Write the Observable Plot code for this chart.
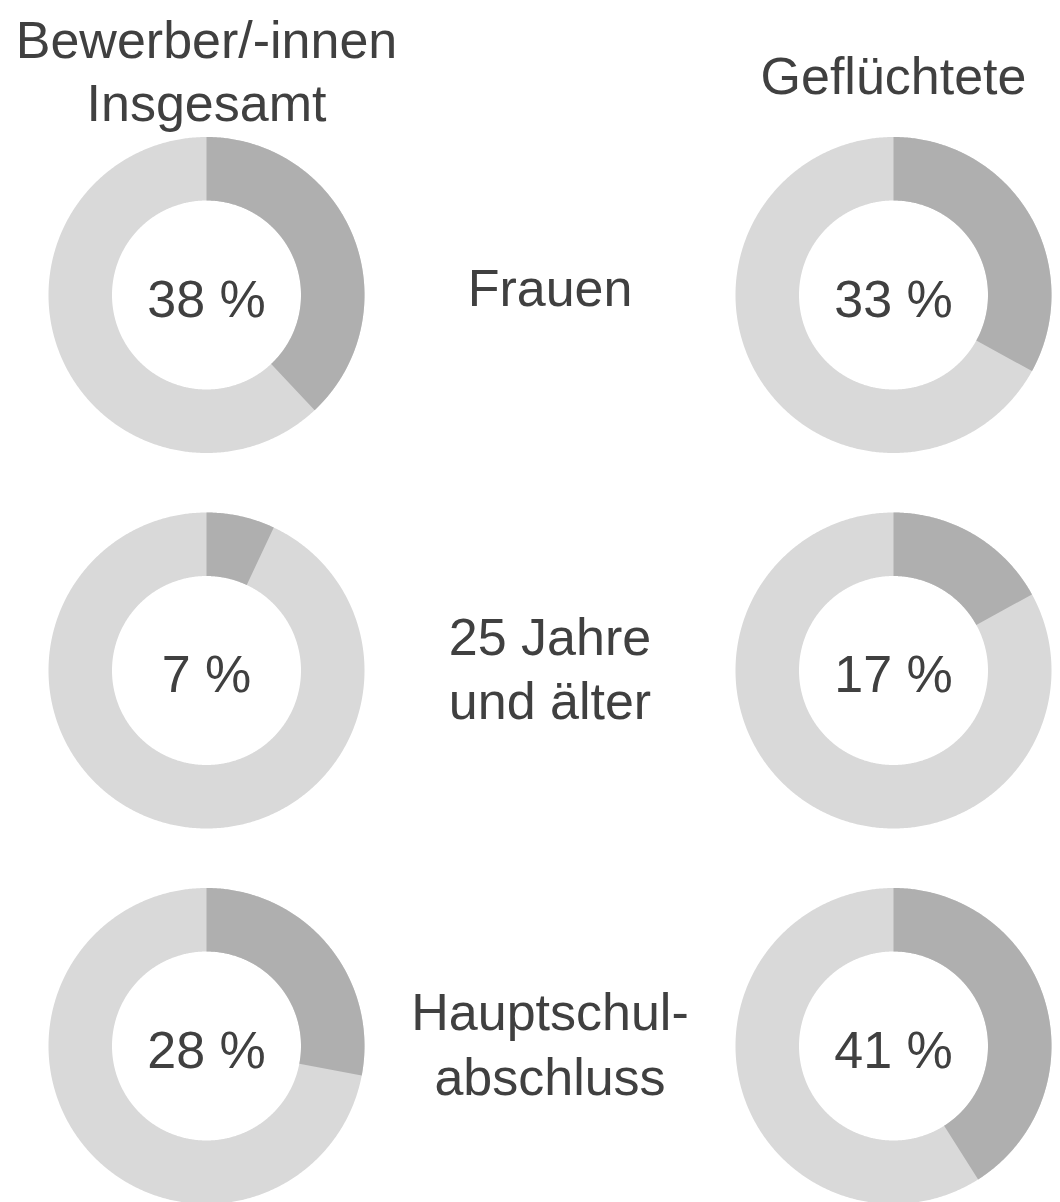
<!DOCTYPE html>
<html>
<head>
<meta charset="utf-8">
<script src="https://cdn.jsdelivr.net/npm/d3@7"></script>
<script src="https://cdn.jsdelivr.net/npm/@observablehq/plot@0.6"></script>
<style>
  html, body { margin: 0; padding: 0; background: #fff; }
  #chart svg { display: block; }
</style>
</head>
<body>
<div id="chart"></div>
<script>
// ---- data ----
const columnTitles = ["Bewerber/-innen\nInsgesamt", "Geflüchtete"];
const rowLabels = ["Frauen", "25 Jahre\nund älter", "Hauptschul-\nabschluss"];
const insgesamt = [38, 7, 28];      // % Bewerber/-innen insgesamt
const gefluechtete = [33, 17, 41];  // % Geflüchtete

// ---- layout (slot 0 = left donuts, 1 = labels, 2 = right donuts) ----
const X_RANGE = [206, 893];
const Y_RANGE = [294.5, 1045.5];
const R_OUT = 158, R_IN = 94.5;       // pixels
const xStep = (X_RANGE[1] - X_RANGE[0]) / 2;
const yStep = (Y_RANGE[1] - Y_RANGE[0]) / 2;
const HEADER_ROW = -0.6;

const donuts = [];
insgesamt.forEach((v, i) => donuts.push({col: 0, row: i, value: v}));
gefluechtete.forEach((v, i) => donuts.push({col: 2, row: i, value: v}));

function sector(id, cx, cy, f0, f1) {
  const pts = [];
  const n = Math.max(2, Math.ceil((f1 - f0) * 720));
  for (let k = 0; k <= n; k++) {
    const a = 2 * Math.PI * (f0 + (f1 - f0) * k / n);
    pts.push({id, x: cx + R_OUT * Math.sin(a) / xStep, y: cy - R_OUT * Math.cos(a) / yStep});
  }
  for (let k = n; k >= 0; k--) {
    const a = 2 * Math.PI * (f0 + (f1 - f0) * k / n);
    pts.push({id, x: cx + R_IN * Math.sin(a) / xStep, y: cy - R_IN * Math.cos(a) / yStep});
  }
  return pts;
}

const ringPts = donuts.flatMap((d, i) => sector("ring" + i, d.col, d.row, 0, 1));
const slicePts = donuts.flatMap((d, i) => sector("slice" + i, d.col, d.row, 0, d.value / 100));

const headers = columnTitles.map((t, i) => ({text: t, col: i * 2, row: HEADER_ROW}));
const labels = rowLabels.map((t, i) => ({text: t, col: 1, row: i}));

const FONT = "'Liberation Sans', Arial, Helvetica, sans-serif";
const TXT = "#404040";

const chart = Plot.plot({
  width: 1060,
  height: 1202,
  margin: 0,
  style: {fontFamily: FONT, background: "#fff"},
  x: {domain: [0, 2], range: X_RANGE, axis: null},
  y: {domain: [0, 2], range: Y_RANGE, axis: null},
  marks: [
    Plot.line(ringPts, {x: "x", y: "y", z: "id", fill: "#d9d9d9", stroke: "none", curve: "linear-closed"}),
    Plot.line(slicePts, {x: "x", y: "y", z: "id", fill: "#afafaf", stroke: "none", curve: "linear-closed"}),
    Plot.text(donuts, {x: "col", y: "row", text: d => `${d.value} %`, fontSize: 52, fill: TXT, dy: 5}),
    Plot.text(headers.slice(0, 1), {x: "col", y: "row", text: "text", fontSize: 52, fill: TXT, lineHeight: 1.2}),
    Plot.text(headers.slice(1), {x: "col", y: "row", text: "text", fontSize: 52, fill: TXT, lineHeight: 1.2, dy: 4}),
    Plot.text(labels.slice(0, 1), {x: "col", y: "row", text: "text", fontSize: 52, fill: TXT, lineHeight: 1.24, dy: -10}),
    Plot.text(labels.slice(1), {x: "col", y: "row", text: "text", fontSize: 52, fill: TXT, lineHeight: 1.24, dy: -4})
  ]
});
document.getElementById("chart").appendChild(chart);
</script>
</body>
</html>
